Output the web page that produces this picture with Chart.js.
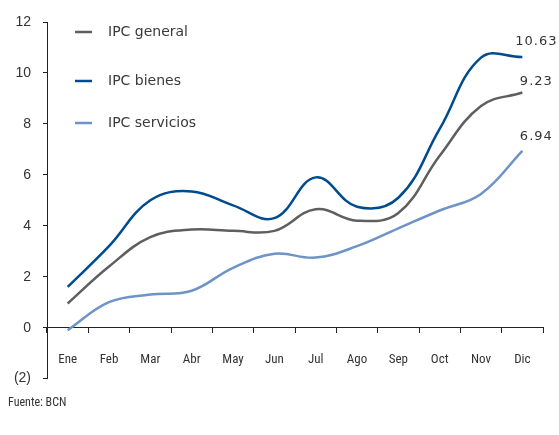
<!DOCTYPE html>
<html>
<head>
<meta charset="utf-8">
<script src="https://cdn.jsdelivr.net/npm/chart.js@4/dist/chart.umd.min.js"></script>
<style>
  html, body { margin: 0; padding: 0; background: #fff; }
  #wrap { position: absolute; left: 0; top: 0; width: 559px; height: 399px; }
  #src { position: absolute; z-index: 2; left: 8px; top: 395px; font-family: "Liberation Sans Narrow", "Roboto Condensed", "Liberation Sans", Arial, sans-serif; font-size: 12px; color: #333; }
</style>
</head>
<body>
<div id="wrap"><canvas id="c" width="559" height="399"></canvas></div>
<div id="src">Fuente: BCN</div>
<script>
const months = ["Ene","Feb","Mar","Abr","May","Jun","Jul","Ago","Sep","Oct","Nov","Dic"];
const ipcGeneral   = [0.95, 2.4, 3.55, 3.85, 3.8, 3.8, 4.65, 4.2, 4.5, 6.75, 8.7, 9.23];
const ipcBienes    = [1.6, 3.2, 5.0, 5.35, 4.8, 4.3, 5.9, 4.75, 5.1, 7.8, 10.6, 10.63];
const ipcServicios = [-0.1, 1.0, 1.3, 1.45, 2.35, 2.9, 2.75, 3.2, 3.9, 4.6, 5.25, 6.94];
const seriesNames  = ["IPC general", "IPC bienes", "IPC servicios"];
const seriesColors = ["#5f5f5f", "#004b8d", "#6e93c8"];
const yTicks = [-2, 0, 2, 4, 6, 8, 10, 12];

const legendPlugin = {
  id: 'customLegend',
  afterDraw(chart) {
    const ctx = chart.ctx;
    const rows = [32, 81, 123];
    ctx.save();
    ctx.font = '14px "DejaVu Sans", Verdana, sans-serif';
    ctx.textBaseline = 'middle';
    seriesNames.forEach((n, i) => {
      ctx.strokeStyle = seriesColors[i];
      ctx.lineWidth = 2.5;
      ctx.beginPath();
      ctx.moveTo(75, rows[i]);
      ctx.lineTo(92, rows[i]);
      ctx.stroke();
      ctx.fillStyle = '#3a3a3a';
      ctx.fillText(n, 108, rows[i]);
    });
    ctx.restore();
  }
};

const endLabelPlugin = {
  id: 'endLabels',
  afterDatasetsDraw(chart) {
    const ctx = chart.ctx;
    const offs = [-11, -15, -14];
    ctx.save();
    ctx.font = '13px "DejaVu Sans", Verdana, sans-serif';
    ctx.fillStyle = '#333';
    ctx.textAlign = 'center';
    ctx.textBaseline = 'middle';
    if ('letterSpacing' in ctx) ctx.letterSpacing = '1px';
    chart.data.datasets.forEach((ds, i) => {
      const meta = chart.getDatasetMeta(i);
      const pt = meta.data[meta.data.length - 1];
      const v = ds.data[ds.data.length - 1];
      ctx.fillText(v.toFixed(2), pt.x + 14, pt.y + offs[i]);
    });
    ctx.restore();
  }
};

new Chart(document.getElementById('c'), {
  type: 'line',
  data: {
    labels: months,
    datasets: [
      { label: seriesNames[0], data: ipcGeneral, borderColor: seriesColors[0] },
      { label: seriesNames[1], data: ipcBienes, borderColor: seriesColors[1] },
      { label: seriesNames[2], data: ipcServicios, borderColor: seriesColors[2] }
    ].map(d => Object.assign(d, { borderWidth: 2.5, pointRadius: 0, tension: 0.4, fill: false }))
  },
  options: {
    responsive: false,
    animation: false,
    layout: { padding: { left: 0, right: 16, top: 22, bottom: 12 } },
    plugins: { legend: { display: false }, tooltip: { enabled: false } },
    scales: {
      x: {
        type: 'category',
        position: { y: 0 },
        offset: true,
        afterFit(s) { s.height = 0; },
        border: { display: true, color: '#222', width: 1 },
        grid: { display: true, drawOnChartArea: false, drawTicks: true, tickLength: 5, color: '#222', offset: true },
        ticks: { padding: 19, color: '#333', maxRotation: 0, autoSkip: false,
                 font: { family: '"Liberation Sans Narrow", "Roboto Condensed", "Liberation Sans", Arial, sans-serif', size: 13 } }
      },
      y: {
        min: -2, max: 12,
        afterFit(s) { s.width = 47; },
        afterBuildTicks(s) { s.ticks = yTicks.map(v => ({ value: v })); },
        border: { display: true, color: '#222', width: 1 },
        grid: { display: true, drawOnChartArea: false, drawTicks: true, tickLength: 4, color: '#222' },
        ticks: { padding: 12, color: '#333', font: { family: '"Liberation Sans", Arial, sans-serif', size: 14 },
                 callback: v => v < 0 ? '(' + (-v) + ')' : String(v) }
      }
    }
  },
  plugins: [legendPlugin, endLabelPlugin]
});
</script>
</body>
</html>
